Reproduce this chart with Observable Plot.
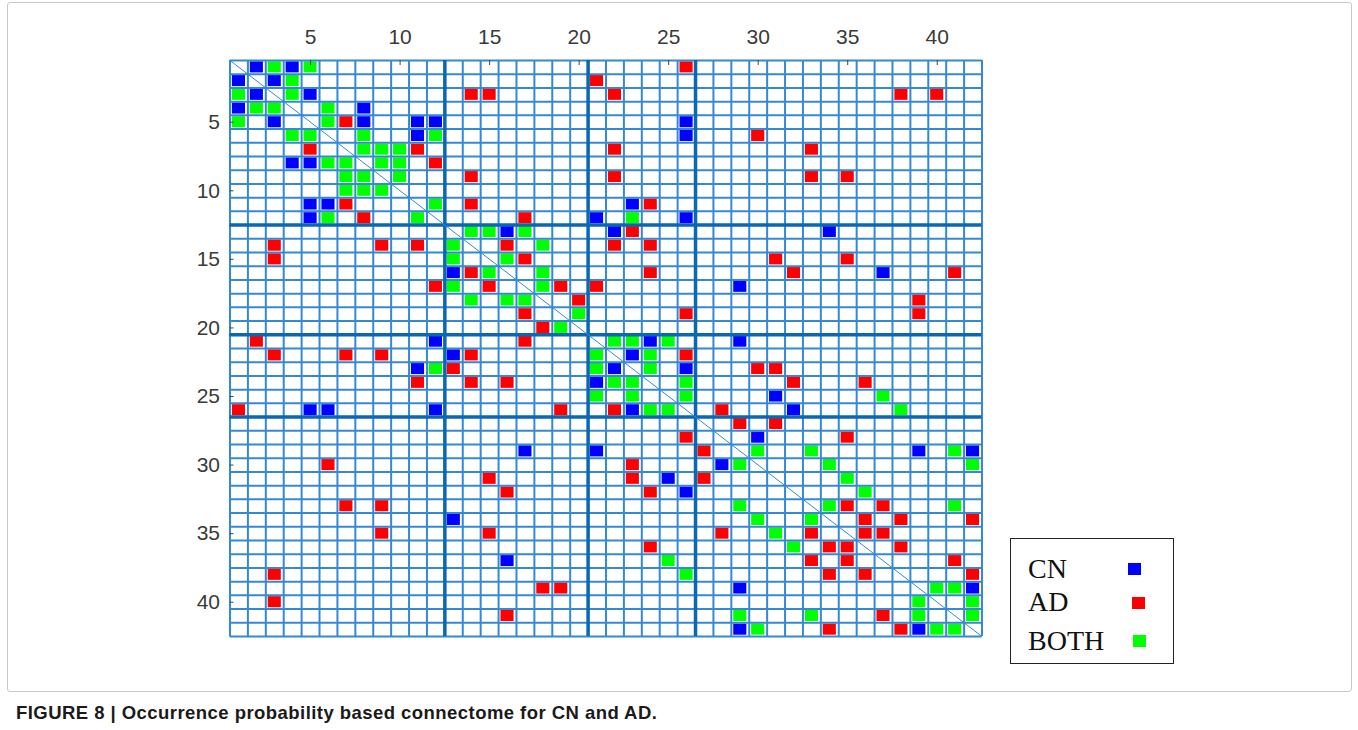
<!DOCTYPE html>
<html>
<head>
<meta charset="utf-8">
<script src="https://cdn.jsdelivr.net/npm/d3@7"></script>
<script src="https://cdn.jsdelivr.net/npm/@observablehq/plot@0.6"></script>
<style>
  body { margin: 0; background: #fff; }
  #fig { position: relative; width: 1358px; height: 730px; overflow: hidden; background: #fff; }
  #frame { position: absolute; left: 7px; top: 2px; width: 1343px; height: 688px; border: 1px solid #c8c8c8; border-radius: 3px; }
  #chart { position: absolute; left: 0; top: 0; }
  #legend { position: absolute; left: 1010px; top: 538px; width: 162px; height: 124px; border: 1px solid #222; background: #fff;
            font-family: "Liberation Serif", "DejaVu Serif", serif; font-size: 28px; color: #111; }
  #legend .lab { position: absolute; left: 17px; line-height: 1; }
  #legend .sw { position: absolute; width: 13px; height: 12px; }
  #caption { position: absolute; left: 16px; top: 702px; font-family: "Liberation Sans", Arial, sans-serif; font-weight: bold;
             font-size: 18.5px; letter-spacing: 0.45px; color: #1a1a1a; }
</style>
</head>
<body>
<div id="fig">
  <div id="frame"></div>
  <div id="chart"></div>
  <div id="legend"></div>
  <div id="caption">FIGURE 8 | Occurrence probability based connectome for CN and AD.</div>
</div>
<script>
// ---- data ----
const regions = Array.from({length: 42}, (_, i) => i + 1);   // 42 brain regions
const tickValues = [5, 10, 15, 20, 25, 30, 35, 40];
const groupEnds = [12, 20, 26];                                // module boundaries (thick lines)
const types = ["CN", "AD", "BOTH"];
const typeColors = ["#0000ff", "#ff0000", "#00ff00"];

// connections (row < col), matrix is symmetric
const cnPairs = [[1,2],[1,4],[2,3],[3,5],[4,8],[5,8],[5,11],[5,12],[5,26],[6,11],[6,26],[11,23],[12,21],[12,26],
  [13,16],[13,22],[13,34],[16,37],[17,29],[21,24],[21,29],[22,23],[23,26],[25,31],[26,32],[28,30],[29,39],[29,42],[39,42]];
const adPairs = [[1,26],[2,21],[3,14],[3,15],[3,22],[3,38],[3,40],[5,7],[6,30],[7,11],[7,22],[7,33],[8,12],[9,14],[9,22],
  [9,33],[9,35],[11,14],[11,24],[12,17],[13,23],[14,16],[14,22],[14,24],[15,17],[15,31],[15,35],[16,24],[16,32],[16,41],
  [17,19],[17,21],[18,20],[18,39],[19,26],[19,39],[22,26],[23,30],[23,31],[24,32],[24,36],[26,28],[27,29],[27,31],[28,35],
  [33,35],[33,37],[34,36],[34,38],[34,42],[35,36],[35,37],[36,38],[37,41],[38,42]];
const bothPairs = [[1,3],[1,5],[2,4],[3,4],[4,6],[5,6],[6,8],[6,12],[7,8],[7,9],[7,10],[8,9],[8,10],[9,10],[11,12],[12,23],
  [13,14],[13,15],[13,17],[14,18],[15,16],[16,18],[17,18],[19,20],[21,22],[21,23],[21,25],[22,24],[23,24],[24,26],[25,26],
  [25,37],[26,38],[29,30],[29,33],[29,41],[30,34],[30,42],[31,35],[32,36],[33,34],[33,41],[39,40],[39,41],[40,42],[41,42]];
// cells seen only on one side of the diagonal: [row, col, type]
const oneSided = [[25, 23, "BOTH"]];

// ---- build table ----
const cells = [];
[[cnPairs, "CN"], [adPairs, "AD"], [bothPairs, "BOTH"]].forEach(([pairs, type]) => {
  pairs.forEach(([a, b]) => {
    cells.push({row: a, col: b, type});
    cells.push({row: b, col: a, type});
  });
});
oneSided.forEach(([row, col, type]) => cells.push({row, col, type}));

const bounds = regions.map(r => r - 0.5).concat([regions[regions.length - 1] + 0.5]);
const lo = bounds[0], hi = bounds[bounds.length - 1];
const thick = groupEnds.map(g => g + 0.5);
const gridColor = "#3489d6";
const thickColor = "#0a67b4";

const plot = Plot.plot({
  width: 1358,
  height: 690,
  marginLeft: 229.5,
  marginRight: 376.5,
  marginTop: 60,
  marginBottom: 54,
  style: {fontFamily: "'Liberation Sans', Arial, sans-serif", color: "#3a3a3a", background: "transparent"},
  x: {domain: [lo, hi]},
  y: {domain: [lo, hi], reverse: true},
  color: {domain: types, range: typeColors},
  marks: [
    Plot.rect(cells, {
      x1: d => d.col - 0.5, x2: d => d.col + 0.5,
      y1: d => d.row - 0.5, y2: d => d.row + 0.5,
      fill: "type", insetLeft: 2.4, insetRight: 2.4, insetTop: 1.3, insetBottom: 1.3
    }),
    Plot.ruleX(bounds, {x: d => d, stroke: gridColor, strokeWidth: 2}),
    Plot.ruleY(bounds, {y: d => d, stroke: gridColor, strokeWidth: 2}),
    Plot.ruleX(thick, {x: d => d, stroke: thickColor, strokeWidth: 3.5}),
    Plot.ruleY(thick, {y: d => d, stroke: thickColor, strokeWidth: 3.5}),
    Plot.link([{a: lo, b: hi}], {x1: "a", y1: "a", x2: "b", y2: "b", stroke: gridColor, strokeWidth: 1}),
    Plot.ruleX(tickValues, {x: d => d, stroke: "#444", strokeWidth: 1, insetBottom: 571}),
    Plot.ruleY(tickValues, {y: d => d, stroke: "#444", strokeWidth: 1, insetRight: 748}),
    Plot.axisX({anchor: "top", ticks: tickValues, tickSize: 0, tickPadding: 17, fontSize: 21, tickFormat: d => d}),
    Plot.axisY({anchor: "left", ticks: tickValues, tickSize: 0, tickPadding: 10, fontSize: 21, tickFormat: d => d})
  ]
});
document.getElementById("chart").appendChild(plot);

// ---- legend ----
const legend = document.getElementById("legend");
const labTops = [15.5, 48.5, 87.5];
const swPos = [[117, 24], [121, 58], [122, 96]];
types.forEach((t, i) => {
  const lab = document.createElement("div");
  lab.className = "lab";
  lab.style.top = labTops[i] + "px";
  lab.textContent = t;
  legend.appendChild(lab);
  const sw = document.createElement("div");
  sw.className = "sw";
  sw.style.left = swPos[i][0] + "px";
  sw.style.top = swPos[i][1] + "px";
  sw.style.background = typeColors[i];
  legend.appendChild(sw);
});
</script>
</body>
</html>
